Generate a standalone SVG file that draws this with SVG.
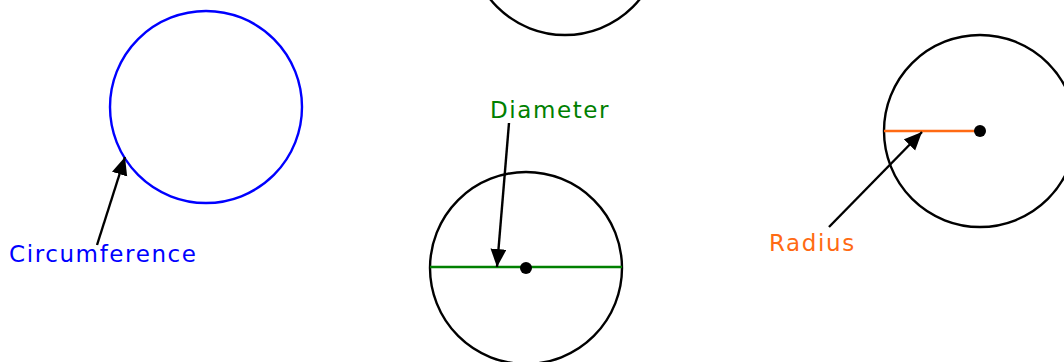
<svg xmlns="http://www.w3.org/2000/svg" width="1064" height="362" viewBox="0 0 1064 362">
<style>
.c{fill:none;stroke:#000;stroke-width:2.4}
.lbl{font-family:"DejaVu Sans",Verdana,sans-serif;font-size:23px;letter-spacing:1.6px}
.arr{stroke:#000;stroke-width:2.4;fill:none;marker-end:url(#ah)}
</style>
<defs>
<marker id="ah" markerUnits="userSpaceOnUse" markerWidth="20" markerHeight="18" refX="18" refY="8" orient="auto">
<path d="M0,0 L18,8 L0,16 Z" fill="#000"/>
</marker>
</defs>
<rect width="1064" height="362" fill="#fff"/>
<g id="circumference">
<circle cx="206" cy="107" r="96" fill="none" stroke="#0000ff" stroke-width="2.4"/>
<text class="lbl" x="9" y="262" fill="#0000ff">Circumference</text>
</g>
<g id="top-circle">
<circle class="c" cx="565" cy="-61" r="96"/>
</g>
<g id="diameter">
<circle class="c" cx="526" cy="268" r="96"/>
<line x1="430" y1="267" x2="622" y2="267" stroke="#008000" stroke-width="2.4"/>
<circle cx="526" cy="268" r="6" fill="#000"/>
<text class="lbl" x="490" y="118" fill="#008000">Diameter</text>
</g>
<g id="radius">
<circle class="c" cx="980" cy="131" r="96"/>
<line x1="884" y1="131" x2="980" y2="131" stroke="#ff6a13" stroke-width="2.4"/>
<circle cx="980" cy="131" r="6" fill="#000"/>
<text class="lbl" x="769" y="251" fill="#ff6a13">Radius</text>
</g>
<g id="connectors">
<line class="arr" x1="97" y1="245" x2="125" y2="157"/>
<line class="arr" x1="509" y1="123" x2="497" y2="267"/>
<line class="arr" x1="829" y1="227" x2="922" y2="132"/>
</g>
</svg>
